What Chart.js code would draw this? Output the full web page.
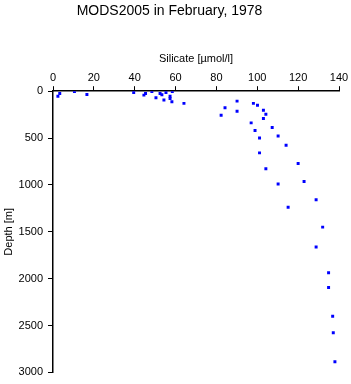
<!DOCTYPE html>
<html lang="en">
<head>
    <meta charset="UTF-8">
    <title>MODS2005 in February, 1978</title>
    <script src="https://cdn.jsdelivr.net/npm/chart.js"></script>
    <style>
        body { margin: 0; background: #fff; }
    </style>
</head>
<body>
    <canvas id="chart" width="351" height="384"></canvas>
    <script>
        // Silicate [umol/l] vs depth [m]
        const silicate = [2.4, 3.3, 10.5, 16.6, 39.5, 44.5, 45.3, 48.4, 50.4, 52.4, 53.3, 54.3, 55.3, 57.3, 57.3, 58.2, 58.4, 64.1,
            90.1, 84.2, 90.1, 82.3, 98.1, 100.1, 103.0, 104.2, 103.0, 97.0, 107.3, 98.9, 110.2, 101.1, 114.1, 101.1,
            120.0, 104.2, 122.9, 110.2, 128.8, 115.1, 132.0, 128.8, 134.9, 134.9, 136.9, 137.2, 138.0];
        const depth = [53, 24, 3, 35, 14, 42, 24, 3, 70, 24, 39, 95, 14, 53, 77, 113, 3, 130,
            106, 176, 215, 257, 130, 151, 204, 246, 292, 338, 387, 419, 479, 500, 577, 658,
            771, 827, 964, 989, 1158, 1239, 1450, 1661, 1936, 2094, 2400, 2577, 2886];
        const xTicks = [0, 20, 40, 60, 80, 100, 120, 140];
        const yTicks = [0, 500, 1000, 1500, 2000, 2500, 3000];

        const points = silicate.map((s, i) => ({ x: s, y: depth[i] }));
        const font = { family: 'Liberation Sans, Arial, sans-serif', size: 11 };

        new Chart(document.getElementById('chart'), {
            type: 'scatter',
            data: {
                datasets: [{
                    data: points,
                    pointStyle: 'rect',
                    pointRadius: 2.1,
                    backgroundColor: '#0000ff',
                    borderColor: '#0000ff',
                    borderWidth: 0
                }]
            },
            options: {
                responsive: false,
                animation: false,
                layout: { padding: { left: 0, right: 12, top: 0, bottom: 7 } },
                plugins: {
                    legend: { display: false },
                    tooltip: { enabled: false },
                    title: {
                        display: true,
                        text: 'MODS2005 in February, 1978',
                        color: '#000',
                        font: { family: font.family, size: 14, weight: 'normal' },
                        padding: { top: 3, bottom: 33 }
                    }
                },
                scales: {
                    x: {
                        type: 'linear',
                        position: 'top',
                        min: 0, max: 140,
                        afterBuildTicks: s => { s.ticks = xTicks.map(v => ({ value: v })); },
                        ticks: { color: '#000', font: font, padding: 2, maxRotation: 0, callback: v => String(v) },
                        grid: { drawOnChartArea: false, drawTicks: true, tickLength: 5, color: '#000' },
                        border: { display: true, color: '#000', width: 1.5 },
                        title: { display: true, text: 'Silicate [µmol/l]', color: '#000', font: font, padding: { top: 0, bottom: 3 } }
                    },
                    y: {
                        type: 'linear',
                        reverse: true,
                        min: 0, max: 3000,
                        afterBuildTicks: s => { s.ticks = yTicks.map(v => ({ value: v })); },
                        afterFit: s => { s.width = 53; },
                        ticks: { color: '#000', font: font, padding: 5, callback: v => String(v) },
                        grid: { drawOnChartArea: false, drawTicks: true, tickLength: 5, color: '#000' },
                        border: { display: true, color: '#000', width: 1.5 },
                        title: { display: true, text: 'Depth [m]', color: '#000', font: font, padding: { top: 2, bottom: 0 } }
                    }
                }
            }
        });
    </script>
</body>
</html>
